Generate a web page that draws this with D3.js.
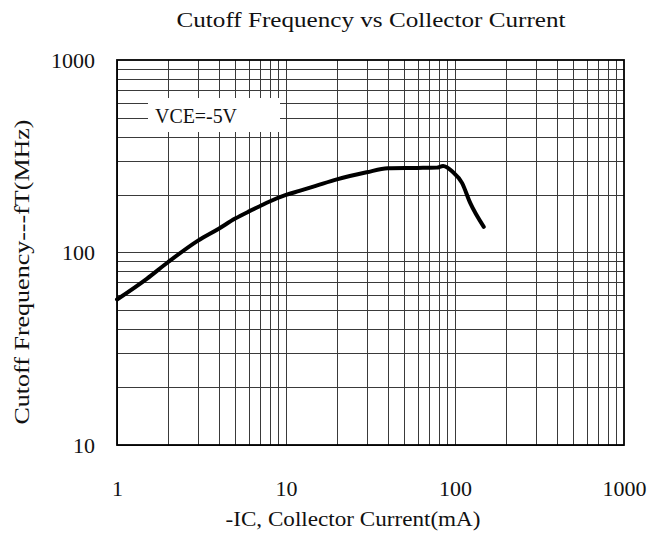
<!DOCTYPE html>
<html><head><meta charset="utf-8">
<script src="https://cdn.jsdelivr.net/npm/d3@7"></script>
<style>body{margin:0;background:#fff}svg{display:block}text{font-family:"Liberation Serif","DejaVu Serif",serif;fill:#111}</style>
</head><body><svg id="c" width="649" height="537"></svg>
<script>
const currentMA = [1, 1.5, 2, 3, 4, 5, 6, 7, 8, 10, 12, 15, 20, 30, 40, 60, 78, 85, 97, 110, 123, 148];
const fT_MHz   = [57, 73, 89, 115, 133, 150, 163, 174, 184, 199, 209, 222, 240, 261, 274, 275, 276, 281, 262, 230, 181, 136];
const xTicks = [1, 10, 100, 1000];
const yTicks = [10, 100, 1000];
const title = "Cutoff Frequency vs Collector Current";
const xLabel = "-IC, Collector Current(mA)";
const yLabel = "Cutoff Frequency---fT(MHz)";
const note = "VCE=-5V";

const svg = d3.select("#c");
const L = 117, R = 624, T = 60, B = 445;
const x = d3.scaleLog().domain([1, 1000]).range([L, R]);
const y = d3.scaleLog().domain([10, 1000]).range([B, T]);

const minorX = [], minorY = [];
for (let d = 1; d < 1000; d *= 10) for (let k = 1; k <= 9; k++) minorX.push(d * k);
for (let d = 10; d < 1000; d *= 10) for (let k = 1; k <= 9; k++) minorY.push(d * k);

const g = svg.append("g");
g.selectAll("line.vx").data(minorX).join("line")
  .attr("x1", d => Math.round(x(d)) + 0.5).attr("x2", d => Math.round(x(d)) + 0.5)
  .attr("y1", T).attr("y2", B).attr("stroke", "#3a3a3a").attr("stroke-width", 1);
g.selectAll("line.hy").data(minorY).join("line")
  .attr("y1", d => Math.round(y(d)) + 0.5).attr("y2", d => Math.round(y(d)) + 0.5)
  .attr("x1", L).attr("x2", R).attr("stroke", "#3a3a3a").attr("stroke-width", 1);

// note box
g.append("rect").attr("x", 148).attr("y", 98).attr("width", 132).attr("height", 34).attr("fill", "#fff");
g.append("text").attr("x", 155).attr("y", 123).attr("font-size", 22)
  .attr("textLength", 82).attr("lengthAdjust", "spacingAndGlyphs").text(note);

// border
svg.append("rect").attr("x", L).attr("y", T).attr("width", R - L).attr("height", B - T)
  .attr("fill", "none").attr("stroke", "#000").attr("stroke-width", 1.8);

// curve
const line = d3.line().x((d, i) => x(currentMA[i])).y(d => y(d)).curve(d3.curveMonotoneX);
svg.append("path").datum(fT_MHz).attr("d", line).attr("fill", "none")
  .attr("stroke", "#000").attr("stroke-width", 4).attr("stroke-linejoin", "round").attr("stroke-linecap", "round");

// axes labels
const xa = svg.append("g").attr("transform", `translate(0,${B})`)
  .call(d3.axisBottom(x).tickValues(xTicks).tickSize(0).tickPadding(35).tickFormat(d3.format("d")));
xa.select(".domain").remove();
xa.selectAll("text").attr("font-size", 22).attr("font-family", "Liberation Serif").attr("fill", "#111");

const ya = svg.append("g").attr("transform", `translate(${L},0)`)
  .call(d3.axisLeft(y).tickValues(yTicks).tickSize(0).tickPadding(22).tickFormat(d3.format("d")));
ya.select(".domain").remove();
ya.selectAll("text").attr("font-size", 22).attr("font-family", "Liberation Serif").attr("fill", "#111");

svg.append("text").attr("x", 371).attr("y", 27).attr("text-anchor", "middle").attr("font-size", 22)
  .attr("textLength", 389).attr("lengthAdjust", "spacingAndGlyphs").text(title);
svg.append("text").attr("x", 353).attr("y", 526).attr("text-anchor", "middle").attr("font-size", 22)
  .attr("textLength", 255).attr("lengthAdjust", "spacingAndGlyphs").text(xLabel);
svg.append("text").attr("transform", "translate(29,272) rotate(-90)").attr("text-anchor", "middle").attr("font-size", 22)
  .attr("textLength", 305).attr("lengthAdjust", "spacingAndGlyphs").text(yLabel);
</script></body></html>
